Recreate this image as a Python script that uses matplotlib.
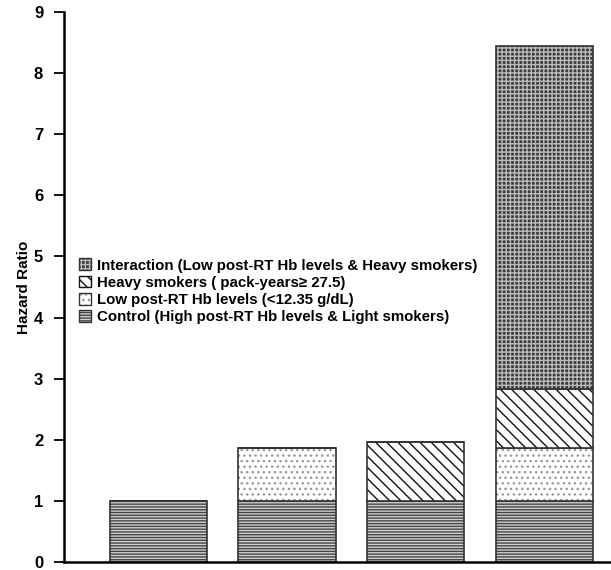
import matplotlib
matplotlib.use("Agg")
import matplotlib.pyplot as plt
from matplotlib.patches import Patch
from matplotlib.legend_handler import HandlerTuple

plt.rcParams['font.family'] = ['Liberation Sans', 'DejaVu Sans']
plt.rcParams['font.weight'] = 'bold'
plt.rcParams['hatch.linewidth'] = 1.0

# Data
groups = [0, 1, 2, 3]
control = [1.0, 1.0, 1.0, 1.0]
low_hb = [0.0, 0.87, 0.0, 0.86]
heavy = [0.0, 0.0, 0.96, 0.97]
interaction = [0.0, 0.0, 0.0, 5.62]

labels = [
    "Interaction (Low post-RT Hb levels & Heavy smokers)",
    "Heavy smokers ( pack-years\u2265 27.5)",
    "Low post-RT Hb levels (<12.35 g/dL)",
    "Control (High post-RT Hb levels & Light smokers)",
]

fig = plt.figure(figsize=(6.11, 5.70), dpi=100)
ax = fig.add_axes([0.1047, 0.0140, 0.8953, 0.9650])

w = 0.755
b1 = control
b2 = [c + l for c, l in zip(control, low_hb)]
b3 = [x + h for x, h in zip(b2, heavy)]

# control: horizontal lines
ax.bar(groups, control, w, color='#d0d0d0', edgecolor='#444444', hatch='------', linewidth=0)
ax.bar(groups, control, w, color='none', edgecolor='#333333', linewidth=1.2)
# low Hb: dotted
ax.bar(groups, low_hb, w, bottom=b1, color='white', edgecolor='#999999', hatch='...', linewidth=0)
ax.bar(groups, low_hb, w, bottom=b1, color='none', edgecolor='#333333', linewidth=1.2)
# heavy smokers: diagonal
ax.bar(groups, heavy, w, bottom=b2, color='white', edgecolor='#111111', hatch='\\\\\\', linewidth=0)
ax.bar(groups, heavy, w, bottom=b2, color='none', edgecolor='#333333', linewidth=1.2)
# interaction: checkered dark
ax.bar(groups, interaction, w, bottom=b3, color='#3c3c3c', edgecolor='#bbbbbb', hatch='++++', linewidth=0)
ax.bar(groups, interaction, w, bottom=b3, color='none', edgecolor='#333333', linewidth=1.2)

h_int = (Patch(facecolor='#3c3c3c', edgecolor='#bbbbbb', hatch='++++', linewidth=0),
         Patch(facecolor='none', edgecolor='#333333', linewidth=1.0))
h_heavy = Patch(facecolor='white', edgecolor='#111111', hatch='\\\\\\', linewidth=1.0)
h_low = (Patch(facecolor='white', edgecolor='#999999', hatch='...', linewidth=0),
         Patch(facecolor='none', edgecolor='#333333', linewidth=1.0))
h_ctrl = (Patch(facecolor='#d0d0d0', edgecolor='#444444', hatch='------', linewidth=0),
          Patch(facecolor='none', edgecolor='#333333', linewidth=1.0))

ax.legend([h_int, h_heavy, h_low, h_ctrl], labels,
          handler_map={tuple: HandlerTuple(ndivide=1, pad=0)},
          loc='upper left', bbox_to_anchor=(0.016, 0.563), frameon=False,
          fontsize=10.8, handlelength=0.85, handleheight=0.85, handletextpad=0.4,
          labelspacing=0.2, borderaxespad=0)

ax.set_xlim(-0.735, 3.52)
ax.set_ylim(0, 9)
ax.set_yticks(range(0, 10))
ax.set_xticks([])
ax.set_ylabel('Hazard Ratio', fontsize=11, fontweight='bold')
ax.yaxis.set_label_coords(-0.06, 0.5)
ax.tick_params(axis='y', direction='out', length=7, width=1.3, labelsize=12, pad=8)
for s in ['top', 'right']:
    ax.spines[s].set_visible(False)
for s in ['left', 'bottom']:
    ax.spines[s].set_linewidth(1.8)

fig.savefig('out.png', dpi=100)
